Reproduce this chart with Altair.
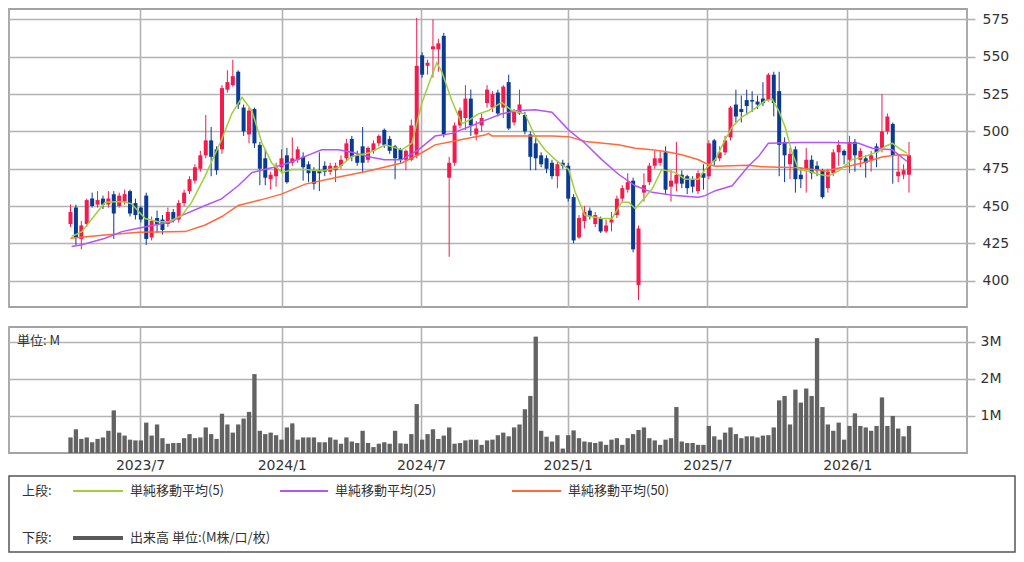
import altair as alt
import pandas as pd

# ---------------- data (weekly candles) ----------------
opens = [438,449,428,438,455,451,455,451,458,450, 453,460,452,449,457,429,442,441,438,446,
         441,452,460,467,475,484,494,488,488,528, 531,540,516,498,515,491,482,468,470,476,
         484,479,481,483,478,474,474,477,473,474, 477,482,495,484,490,481,487,492,501,495,
         490,488,481,481,484,551,544,555,555,564, 469,479,504,509,522,498,504,519,516,526,
         516,533,506,512,511,498,492,484,482,479, 470,479,477,456,429,440,447,438,442,433,
         439,444,455,461,467,397,459,466,477,479, 486,463,465,471,470,468,460,472,470,494,
         482,486,496,518,515,521,521,520,522,521, 538,527,493,478,488,471,475,481,477,474,
         462,472,486,487,481,493,481,482,481,490, 489,500,505,470,471,471]
highs = [451,451,440,455,459,460,457,460,460,459, 461,461,455,450,459,443,447,444,449,448,
         454,461,470,478,487,511,503,490,531,541, 548,541,518,516,516,493,488,473,479,488,
         489,496,490,486,480,476,486,480,479,479, 484,495,497,487,503,490,494,498,502,497,
         491,489,488,508,576,553,548,575,562,566, 483,506,516,531,528,507,512,531,527,528,
         531,538,515,528,513,500,497,486,484,481, 480,481,479,458,444,450,449,446,443,441,
         446,457,464,472,469,437,472,479,487,487, 490,474,493,474,471,470,474,478,494,495,
         490,497,517,528,524,528,527,524,533,539, 540,540,496,489,490,476,489,484,480,475,
         475,488,494,488,497,495,489,484,487,492, 525,512,506,484,478,493]
lows = [436,424,421,436,449,449,448,449,428,449, 451,443,441,439,424,427,432,431,436,439,
        439,450,458,465,473,482,470,471,485,526, 530,515,497,492,489,464,464,461,463,472,
        465,477,479,467,466,461,460,470,471,466, 475,480,480,477,472,479,485,490,489,485,
        468,479,474,480,482,536,538,536,540,496, 416,477,502,501,497,494,500,516,513,510,
        509,501,504,511,498,474,474,476,472,468, 462,475,453,425,428,435,441,436,432,432,
        433,442,453,459,419,387,453,464,475,477, 458,453,460,462,458,459,458,461,468,477,
        480,484,494,506,506,511,513,515,517,520, 510,470,466,468,459,462,459,468,470,455,
        459,470,477,478,472,473,476,469,473,476, 486,498,465,466,468,459]
closes = [446,429,437,454,450,454,451,455,445,457, 458,445,444,441,428,440,438,434,446,441,
          452,459,468,476,484,494,483,474,529,533, 537,518,500,514,492,475,469,471,476,482,
          466,482,488,476,472,465,472,473,477,477, 481,492,483,479,479,489,492,497,491,487,
          482,481,487,504,544,538,546,557,559,498, 479,504,514,522,504,502,509,528,525,512,
          530,502,513,518,500,483,482,478,475,470, 478,477,455,427,442,446,443,444,433,437,
          441,455,462,466,421,435,464,477,482,482, 461,467,471,465,462,463,472,469,492,480,
          486,494,516,510,513,517,520,518,519,538, 519,491,484,485,468,468,481,472,474,456,
          473,486,491,484,493,484,487,479,484,486, 500,510,484,473,474,484]
volumes = [0.42,0.64,0.38,0.42,0.29,0.38,0.42,0.60,1.15,0.55, 0.47,0.36,0.34,0.34,0.82,0.47,0.77,0.40,0.25,0.27,
           0.27,0.40,0.51,0.40,0.42,0.69,0.51,0.38,1.06,0.77, 0.55,0.77,0.93,1.11,2.13,0.60,0.51,0.55,0.48,0.36,
           0.69,0.80,0.36,0.42,0.42,0.42,0.29,0.29,0.42,0.36, 0.25,0.42,0.31,0.27,0.60,0.27,0.16,0.25,0.29,0.25,
           0.60,0.26,0.25,0.51,1.32,0.36,0.51,0.64,0.38,0.47, 0.69,0.25,0.27,0.34,0.36,0.36,0.22,0.34,0.36,0.48,
           0.55,0.45,0.69,0.77,1.18,1.54,3.14,0.60,0.44,0.31, 0.48,0.12,0.48,0.61,0.40,0.31,0.29,0.27,0.31,0.22,
           0.36,0.40,0.22,0.40,0.51,0.62,0.69,0.40,0.34,0.22, 0.36,0.40,1.24,0.31,0.27,0.27,0.22,0.22,0.73,0.45,
           0.36,0.55,0.69,0.51,0.40,0.45,0.45,0.42,0.47,0.48, 0.69,1.42,1.54,0.77,1.71,1.36,1.74,1.54,3.10,1.24,
           0.77,0.60,0.82,0.36,0.73,1.07,0.73,0.69,0.60,0.73, 1.50,0.73,1.00,0.66,0.45,0.73]

# moving averages (week position, value)
ma5_week = [0.2,2.1,4.0,6.4,9.5,11.3,13.8,16.2,18.1,20.6,22.4,24.9,27.9,29.8,31.7,33.5,35.4,37.2,39.1,40.9,
            43.4,46.4,49.5,52,55.1,58.2,61.2,63.1,64.9,66.2,67.7,68.6,70.5,72.3,73.6,75.4,77.3,79.7,81.6,84,
            85.9,87.7,89.6,92.1,93.3,95.1,98.2,100.1,101.9,103.2,104.4,107.5,109.3,111.8,113.6,116.1,117.3,119.2,121,122.3,
            124.1,126,128.4,129.7,130.9,132.1,133.4,134.6,136.4,138.3,140.1,142,144.5,146.9,149.4,150.6,151.9,153.1,154.6]
ma5_val = [429.6,432.9,441.7,452.6,453,451.5,441.7,439.5,439.5,443.8,452.6,470.2,494.3,511.8,522.8,514,492.1,478.9,472.4,474.5,
           474.5,473.5,475.6,483.3,485.5,491,487.7,492.1,518.4,531.6,546,540.3,520.6,505.2,507.4,511.8,514,519.5,514,511.8,
           496.5,487.7,481.1,474.5,459.2,443.8,441.7,441.7,452.6,452.6,448.2,461.4,474.5,472.4,468,468,474.5,481.1,494.3,503,
           509.6,514,520.6,521.7,514,503,485.5,474.5,473.5,471.3,470.2,473.5,481.1,483.3,486.6,489.9,492.1,488.8,485.5]
ma25_week = [0.2,2.1,6.4,9.5,12.5,15.6,18.7,20.6,24.9,27.9,31,33.5,37.2,40.3,43.4,46.4,49.5,52,55.1,58,
             61.2,64.3,67.4,70.5,73.6,76.6,79.7,82.8,85.9,89,92.1,95.1,98.2,101.3,104.4,107.5,111.8,116.1,117.3,119.2,
             122.3,125.3,127.2,129,134.6,140.8,145.7,148.2,151.9,154.6]
ma25_val = [423,424.1,428.5,432.9,435.1,437.3,439.5,443.8,450.4,454.8,463.6,472.4,475.6,478.9,483.3,487.7,487.7,486,483,481,
            481,487.7,496.9,498.7,503,507.4,511.8,514,514.5,512.9,500.9,492.1,481.1,471.3,463.6,459.2,457,455.9,457,460.3,
            463.6,476.7,483.3,492.1,492.6,492.6,492.1,488.8,487.7,480]
ma50_week = [0,6.4,12.6,21.2,24.9,28,31,35,39,43.4,48.9,55.1,61.2,64.3,67.4,70.5,73.5,76.6,77.3,77.9,
             82.8,89,92.1,95.2,101.3,104.4,107.5,110,113,116.1,117.3,119.2,125.3,127.8,134.6,139.5,140.7,143.8,146.9,150,
             153.1,155]
ma50_val = [428.5,430.7,432.5,432.9,437.3,443,450.4,454,458,464.7,469,473.5,478.9,484.4,491,493.2,495.4,497.6,498.5,497,
            497,497,496.5,493.2,491,488.8,487.7,486.6,484.4,481,478.9,476.7,477.4,476.3,475.6,473.5,474.5,476.7,479.4,482.9,
            484.4,484]

month_pos = [12.85, 39.05, 64.8, 91.9, 117.75, 143.6]
month_labels = ["2023/7", "2024/1", "2024/7", "2025/1", "2025/7", "2026/1"]
price_ticks = [400, 425, 450, 475, 500, 525, 550, 575]
volume_ticks = [1, 2, 3]

legend_top = ["単純移動平均(5)", "単純移動平均(25)", "単純移動平均(50)"]

# ---------------- styles ----------------
RED = "#f31a4c"
BLUE = "#0b3a93"
C5 = "#9fd03a"
C25 = "#b455f7"
C50 = "#ff6a3a"
VOLC = "#636363"
GRID = "#b3b3b3"
BORDER = "#a3a3a3"
TXT = "#333333"
NUM_FONT = "DejaVu Sans"
JP_FONT = "Noto Sans CJK JP"

W = 958
H_UP = 298
H_VOL = 126

candles = pd.DataFrame({"week": list(range(len(closes))), "open": opens, "high": highs,
                        "low": lows, "close": closes, "volume": volumes})

x_scale = alt.Scale(domain=[-11.37, 165.72], nice=False, zero=False)
y_scale = alt.Scale(domain=[382.4, 582.0], nice=False, zero=False)
v_scale = alt.Scale(domain=[0, 3.4], nice=False, zero=False)

# label expression for the month ticks
expr = "'" + month_labels[-1] + "'"
for k in range(len(month_pos) - 2, -1, -1):
    mid = (month_pos[k] + month_pos[k + 1]) / 2
    expr = f"datum.value < {mid} ? '{month_labels[k]}' : ({expr})"

color = alt.condition("datum.close >= datum.open", alt.value(RED), alt.value(BLUE))

x_up_axis = alt.Axis(values=month_pos, labels=False, ticks=False, domain=False, grid=True,
                     gridColor=GRID, gridWidth=1.6, title=None)
y_up_axis = alt.Axis(orient="right", values=price_ticks, title=None, domain=False, grid=True,
                     gridColor=GRID, gridWidth=1.6, tickSize=8, tickColor=GRID, tickWidth=1.6,
                     labelPadding=7, labelFont=NUM_FONT, labelFontSize=14, labelColor=TXT)

X_UP = lambda f: alt.X(f, scale=x_scale, axis=x_up_axis, title=None)
Y_UP = lambda f: alt.Y(f, scale=y_scale, axis=y_up_axis, title=None)

wicks = alt.Chart(candles).mark_rule(strokeWidth=1).encode(
    x=X_UP("week:Q"),
    y=Y_UP("low:Q"),
    y2="high:Q",
    color=color,
)
bodies = alt.Chart(candles).transform_calculate(
    x0="datum.week - 0.37", x1="datum.week + 0.37"
).mark_bar().encode(
    x=X_UP("x0:Q"),
    x2="x1:Q",
    y=Y_UP("open:Q"),
    y2="close:Q",
    color=color,
)


def ma_line(weeks, vals, col):
    return alt.Chart(pd.DataFrame({"week": weeks, "value": vals})).mark_line(
        color=col, strokeWidth=1.5
    ).encode(
        x=X_UP("week:Q"),
        y=Y_UP("value:Q"),
    )


upper = alt.layer(
    wicks, bodies,
    ma_line(ma50_week, ma50_val, C50),
    ma_line(ma25_week, ma25_val, C25),
    ma_line(ma5_week, ma5_val, C5),
).properties(width=W, height=H_UP)

vol_bars = alt.Chart(candles).transform_calculate(
    x0="datum.week - 0.4", x1="datum.week + 0.4"
).mark_bar(color=VOLC).encode(
    x=alt.X("x0:Q", scale=x_scale,
            axis=alt.Axis(values=month_pos, labelExpr=expr, grid=True, gridColor=GRID, gridWidth=1.6,
                          ticks=False, domain=False, labelPadding=5, title=None,
                          labelFont=NUM_FONT, labelFontSize=14, labelColor=TXT)),
    x2="x1:Q",
    y=alt.Y("volume:Q", scale=v_scale,
            axis=alt.Axis(orient="right", values=volume_ticks, labelExpr="datum.value + 'M'",
                          title=None, domain=False, grid=True, gridColor=GRID, gridWidth=1.6,
                          tickSize=8, tickColor=GRID, tickWidth=1.6, labelPadding=5,
                          labelFont=NUM_FONT, labelFontSize=14, labelColor=TXT)),
    y2=alt.datum(0),
)
unit_text = alt.Chart(pd.DataFrame({"t": ["単位: M"]})).mark_text(
    align="left", baseline="middle", font=JP_FONT, fontSize=13, color=TXT
).encode(x=alt.value(8), y=alt.value(14), text="t:N")

volume = alt.layer(vol_bars, unit_text).properties(width=W, height=H_VOL)


# ---------------- legend box ----------------
def ltext(txt, x, y):
    return alt.Chart(pd.DataFrame({"t": [txt]})).mark_text(
        align="left", baseline="middle", font=JP_FONT, fontSize=13, color=TXT
    ).encode(x=alt.value(x), y=alt.value(y), text="t:N")


def lline(col, x1, x2, y, w):
    return alt.Chart(pd.DataFrame({"a": [0]})).mark_rule(color=col, strokeWidth=w).encode(
        x=alt.value(x1), x2=alt.value(x2), y=alt.value(y)
    )


legend = alt.layer(
    ltext("上段:", 13, 15),
    lline(C5, 64, 114, 15, 2), ltext(legend_top[0], 121, 15),
    lline(C25, 271, 319, 15, 2), ltext(legend_top[1], 326, 15),
    lline(C50, 503, 552, 15, 2), ltext(legend_top[2], 559, 15),
    ltext("下段:", 13, 62),
    lline("#5a5a5a", 64, 114, 62, 4), ltext("出来高 単位:(M株/口/枚)", 121, 62),
).properties(width=1006, height=76, view=alt.ViewBackground(stroke="#555555", strokeWidth=1.5))

chart = alt.vconcat(
    alt.vconcat(upper, volume, spacing=18),
    legend,
    spacing=2,
    padding=0,
).configure_view(stroke=BORDER, strokeWidth=1.8)

chart.save("out.html", embed_options={"renderer": "svg", "actions": False})
